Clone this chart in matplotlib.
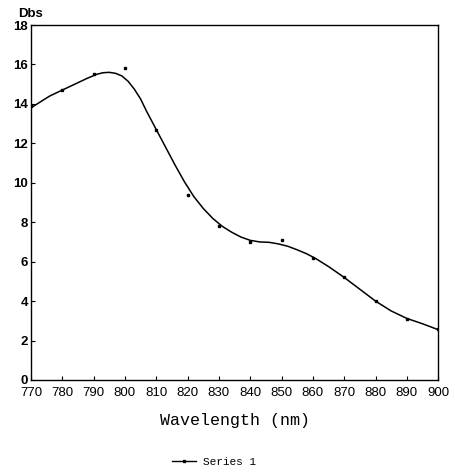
import matplotlib
matplotlib.use("Agg")
import matplotlib.pyplot as plt
from matplotlib.lines import Line2D

# measured points (dots)
wl_pts = [770, 780, 790, 800, 810, 820, 830, 840, 850, 860, 870, 880, 890, 900]
db_pts = [13.9, 14.7, 15.5, 15.8, 12.7, 9.4, 7.8, 7.0, 7.1, 6.2, 5.2, 4.0, 3.1, 2.6]

# smooth fitted curve
wl_curve = [770, 773, 776, 780, 784, 788, 791, 793, 795, 797, 799, 801, 803, 805, 807, 810,
            813, 816, 819, 822, 825, 828, 831, 834, 837, 840, 843, 846, 849, 852, 855, 858,
            861, 865, 870, 875, 880, 885, 890, 895, 900]
db_curve = [13.8, 14.1, 14.4, 14.7, 15.0, 15.3, 15.5, 15.58, 15.6, 15.55, 15.42, 15.15, 14.75,
            14.25, 13.6, 12.7, 11.8, 10.9, 10.05, 9.3, 8.7, 8.2, 7.8, 7.5, 7.25, 7.08, 7.0,
            6.98, 6.9, 6.78, 6.6, 6.4, 6.15, 5.75, 5.2, 4.6, 4.0, 3.5, 3.12, 2.85, 2.55]

xticks = list(range(770, 901, 10))
yticks = list(range(0, 19, 2))

fig = plt.figure(figsize=(4.55, 4.72), dpi=100)
ax = fig.add_axes([0.068, 0.195, 0.895, 0.752])

ax.plot(wl_curve, db_curve, color="black", lw=1.1)
ax.plot(wl_pts, db_pts, "s", color="black", ms=1.8, lw=0)

ax.set_xlim(770, 900)
ax.set_ylim(0, 18)
ax.set_xticks(xticks)
ax.set_yticks(yticks)
ax.set_xticklabels([str(t) for t in xticks], fontdict=dict(family="Liberation Sans", size=9.5))
ax.set_yticklabels([str(t) for t in yticks],
                   fontdict=dict(family="Liberation Sans", size=9.5, weight="bold"))
ax.tick_params(axis="both", direction="in", length=3, width=0.8)
ax.tick_params(axis="x", pad=5)
ax.tick_params(axis="y", pad=2)
for s in ax.spines.values():
    s.set_linewidth(1.0)

ax.set_xlabel("Wavelength (nm)", family="Liberation Mono", size=12, labelpad=10)
fig.text(0.068, 0.957, "Dbs", family="Liberation Sans", weight="bold", size=9.5,
         ha="center", va="bottom")

handle = Line2D([], [], color="black", lw=1, marker="s", ms=1.8)
fig.legend([handle], ["Series 1"], loc="center", bbox_to_anchor=(0.47, 0.022),
           frameon=False, prop=dict(family="Liberation Mono", size=8), handlelength=2.2,
           handletextpad=0.6)

fig.savefig("out.png", dpi=100, facecolor="white")
